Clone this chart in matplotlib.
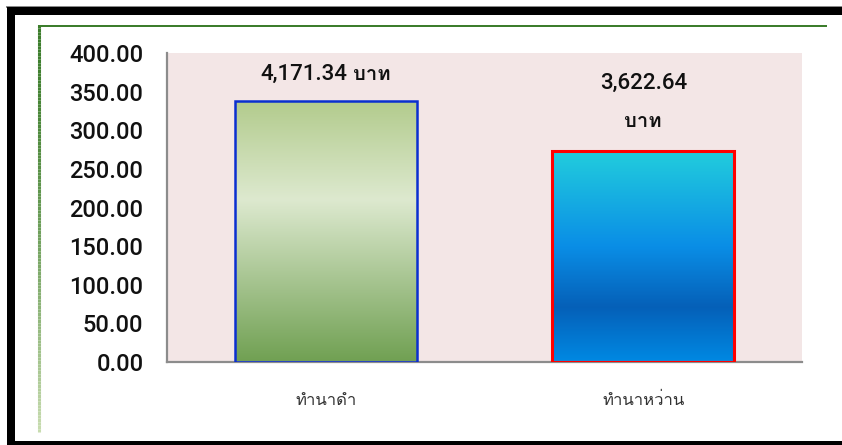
import matplotlib
matplotlib.use("Agg")
import matplotlib.pyplot as plt
import numpy as np
from matplotlib.patches import Rectangle
from matplotlib.colors import LinearSegmentedColormap
from matplotlib.collections import LineCollection

# ---- data ----
categories = ["ทำนาดำ", "ทำนาหว่าน"]
values = [338.0, 273.0]
value_numbers = ["4,171.34", "3,622.64"]
value_unit = "บาท"
yticks = [0, 50, 100, 150, 200, 250, 300, 350, 400]

W, H = 842, 445
fig = plt.figure(figsize=(W / 100, H / 100), dpi=100)
fig.patch.set_facecolor("white")

def px_rect(x0, y0, x1, y1, color, z=0):
    r = Rectangle((x0 / W, 1 - y1 / H), (x1 - x0) / W, (y1 - y0) / H,
                  transform=fig.transFigure, facecolor=color, edgecolor="none",
                  zorder=z)
    fig.add_artist(r)

# outer black frame (continues past the right edge)
px_rect(6, 6, W + 5, 7.5, "#8a8a8a")
px_rect(7, 7, W + 5, 15, "black")
px_rect(7, 7, 15, H + 5, "black")
px_rect(7, 441, W + 5, H + 5, "black")

# inner green frame: top line and fading left line
px_rect(38, 25, 827, 27, "#3c7d2c")
ys = np.linspace(25, 432, 120)
segs = [[(39 / W, 1 - ys[i] / H), (39 / W, 1 - ys[i + 1] / H)] for i in range(len(ys) - 1)]
c0 = np.array([0x3c, 0x7d, 0x2c]) / 255
c1 = np.array([0xc8, 0xdc, 0xb0]) / 255
cols = [tuple(c0 + (c1 - c0) * (i / (len(segs) - 1)) ** 1.5) for i in range(len(segs))]
lc = LineCollection(segs, colors=cols, linewidths=2.2, transform=fig.transFigure)
fig.add_artist(lc)

ax = fig.add_axes([167 / W, 1 - 362 / H, (802 - 167) / W, (362 - 53) / H])
ax.set_facecolor("#f3e6e6")

green_cmap = LinearSegmentedColormap.from_list(
    "g", [(0.0, "#b2cb8c"), (0.38, "#dde9cf"), (1.0, "#70a052")])
blue_cmap = LinearSegmentedColormap.from_list(
    "b", [(0.0, "#22cddd"), (0.45, "#0a8ee6"), (0.74, "#0560b8"), (1.0, "#0089e3")])
cmaps = [green_cmap, blue_cmap]
edges = ["#0a2fd0", "#ff0000"]
edge_w = [1.8, 2.2]
width = 0.573

x = np.arange(len(categories))
bars = ax.bar(x, values, width=width, color="none", edgecolor=edges,
              linewidth=edge_w, zorder=3)
grad = np.linspace(0, 1, 256).reshape(-1, 1)
for b, cm in zip(bars, cmaps):
    x0, w = b.get_x(), b.get_width()
    h = b.get_height()
    im = ax.imshow(grad, cmap=cm, aspect="auto", origin="upper",
                   extent=(x0, x0 + w, 0, h), zorder=2)
    clip = Rectangle((x0, 0), w, h, transform=ax.transData, facecolor="none",
                     edgecolor="none")
    ax.add_patch(clip)
    im.set_clip_path(clip)
ax.set_xlim(-0.5, 1.5)
ax.set_ylim(0, 400)

for s in ["top", "right"]:
    ax.spines[s].set_visible(False)
for s in ["left", "bottom"]:
    ax.spines[s].set_color("#8c8c8c")
    ax.spines[s].set_linewidth(1.6)

ax.set_yticks(yticks)
ax.set_yticklabels([f"{v:.2f}" for v in yticks], family="Roboto", fontsize=17,
                   fontweight=500, color="#111111")
ax.tick_params(axis="y", length=0, pad=17)
ax.set_xticks(x)
ax.set_xticklabels(categories, family=["Loma"], fontsize=12, color="#333333")
ax.tick_params(axis="x", length=0, pad=22)

# value labels
num_kw = dict(fontsize=16, family=["Roboto"], fontweight=500, color="#111111",
              va="baseline", textcoords="offset pixels")
unit_kw = dict(fontsize=14.5, family=["Loma"], fontweight="bold", color="#111111",
               va="baseline", textcoords="offset pixels")
fig.canvas.draw()
renderer = fig.canvas.get_renderer()

# bar 1: number and unit on one line, centred together
b = bars[0]
xy = (b.get_x() + b.get_width() / 2, b.get_height())
t_num = ax.annotate(value_numbers[0], xy, xytext=(0, 21), ha="left", **num_kw)
t_unit = ax.annotate(value_unit, xy, xytext=(0, 21), ha="left", **unit_kw)
wn = t_num.get_window_extent(renderer).width
wu = t_unit.get_window_extent(renderer).width
gap = 6
total = wn + gap + wu
t_num.set_position((-total / 2, 21))
t_unit.set_position((-total / 2 + wn + gap, 21))

# bar 2: number above, unit wrapped below
b = bars[1]
xy = (b.get_x() + b.get_width() / 2, b.get_height())
ax.annotate(value_numbers[1], xy, xytext=(0, 62), ha="center", **num_kw)
ax.annotate(value_unit, xy, xytext=(0, 24), ha="center", **unit_kw)

fig.savefig("out.png", dpi=100)
